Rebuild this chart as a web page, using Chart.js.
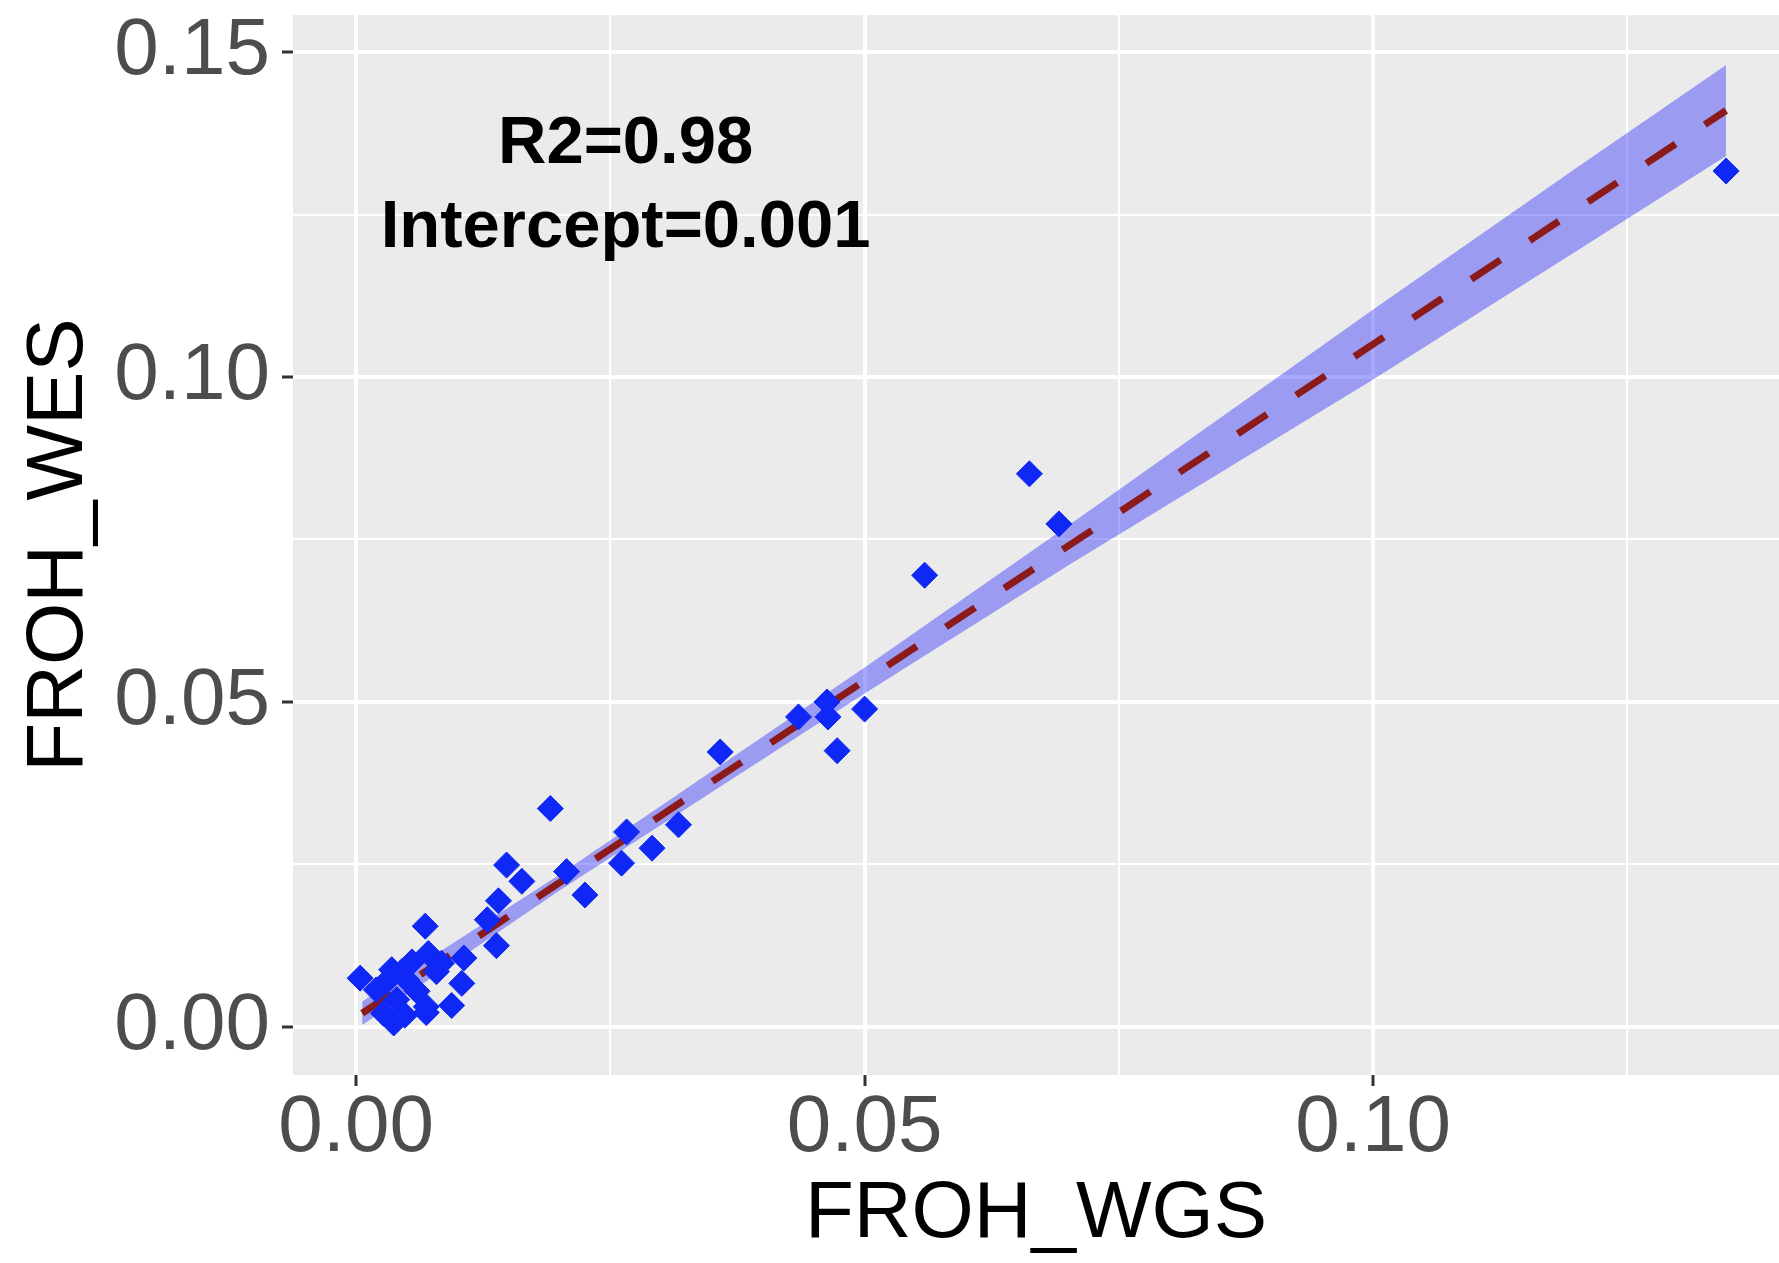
<!DOCTYPE html>
<html>
<head>
<meta charset="utf-8">
<title>FROH_WES vs FROH_WGS</title>
<script src="https://cdn.jsdelivr.net/npm/chart.js@4.4.1/dist/chart.umd.min.js"></script>
<style>
  html, body { margin: 0; padding: 0; background: #fff; }
  #wrap { width: 1779px; height: 1263px; }
</style>
</head>
<body>
<div id="wrap"><canvas id="myChart" width="1779" height="1263"></canvas></div>
<script>
// ---------- Datos ----------

const frohWGS = [0.1347, 0.0662, 0.0691, 0.0559, 0.0463, 0.0435, 0.0464, 0.0500, 0.0473, 0.0358,
  0.0191, 0.0266, 0.0317, 0.0291, 0.0261, 0.0148, 0.0163, 0.0207, 0.0225, 0.0140,
  0.0129, 0.0138, 0.0106, 0.0104, 0.0094, 0.0069, 0.0068, 0.0004, 0.0035, 0.0055,
  0.0071, 0.0084, 0.0050, 0.0020, 0.0040, 0.0027, 0.0037, 0.0048, 0.0069, 0.0060,
  0.0030, 0.0045, 0.0079];
const frohWES = [0.1317, 0.0851, 0.0774, 0.0695, 0.0500, 0.0477, 0.0477, 0.0489, 0.0425, 0.0423,
  0.0336, 0.0300, 0.0311, 0.0275, 0.0252, 0.0249, 0.0224, 0.0239, 0.0203, 0.0194,
  0.0165, 0.0125, 0.0106, 0.0067, 0.0033, 0.0022, 0.0155, 0.0075, 0.0088, 0.0100,
  0.0113, 0.0098, 0.0072, 0.0057, 0.0042, 0.0021, 0.0006, 0.0018, 0.0031, 0.0055,
  0.0070, 0.0085, 0.0085];

// recta de regresion (extremos) y banda de confianza
const fitX = [0.0006, 0.1347];
const fitY = [0.0021, 0.1410];

const bandX = [0.0006, 0.02, 0.05, 0.07, 0.10, 0.12, 0.1347];
const bandUpper = [0.0039, 0.0234, 0.0553, 0.0771, 0.1104, 0.1322, 0.1480];
const bandLower = [0.0003, 0.0210, 0.0513, 0.0710, 0.0996, 0.1194, 0.1340];

const xTicks = [0, 0.025, 0.05, 0.075, 0.10, 0.125];
const xTickLabels = ['0.00', '', '0.05', '', '0.10', ''];
const yTicks = [0, 0.025, 0.05, 0.075, 0.10, 0.125, 0.15];
const yTickLabels = ['0.00', '', '0.05', '', '0.10', '', '0.15'];

const anotaciones = ['R2=0.98', 'Intercept=0.001'];

// ---------- Plugins ----------

const fondoPanel = {
  id: 'fondoPanel',
  beforeDraw(chart) {
    const { ctx, chartArea: a } = chart;
    ctx.save();
    ctx.fillStyle = '#ebebeb';
    ctx.fillRect(a.left, a.top, a.right - a.left, a.bottom - a.top);
    ctx.restore();
  }
};

const textoAnotacion = {
  id: 'textoAnotacion',
  afterDraw(chart) {
    const { ctx, scales } = chart;
    const x = scales.x.getPixelForValue(0.0265);
    const ys = [0.1358, 0.1228];
    ctx.save();
    ctx.fillStyle = '#000';
    ctx.font = 'bold 67px "Liberation Sans", Arial, sans-serif';
    ctx.textAlign = 'center';
    ctx.textBaseline = 'middle';
    anotaciones.forEach((t, i) => {
      ctx.fillText(t, x, scales.y.getPixelForValue(ys[i]));
    });
    ctx.restore();
  }
};

// ---------- Grafica ----------

const puntos = frohWGS.map((x, i) => ({ x, y: frohWES[i] }));
const recta = fitX.map((x, i) => ({ x, y: fitY[i] }));
const bandaInf = bandX.map((x, i) => ({ x, y: bandLower[i] }));
const bandaSup = bandX.map((x, i) => ({ x, y: bandUpper[i] }));

const fuente = '"Liberation Sans", Arial, sans-serif';

const ctx = document.getElementById('myChart').getContext('2d');

new Chart(ctx, {
  type: 'scatter',
  data: {
    datasets: [
      {
        data: puntos,
        pointStyle: 'rectRot',
        pointRadius: 13,
        backgroundColor: 'rgb(15, 40, 245)',
        borderColor: 'rgb(15, 40, 245)',
        borderWidth: 1,
        order: 0
      },
      {
        data: recta,
        showLine: true,
        pointRadius: 0,
        borderColor: '#8b1a1a',
        borderWidth: 7,
        borderDash: [35, 35],
        fill: false,
        order: 1
      },
      {
        data: bandaInf,
        showLine: true,
        pointRadius: 0,
        borderWidth: 0,
        borderColor: 'rgba(0,0,0,0)',
        fill: false,
        order: 3
      },
      {
        data: bandaSup,
        showLine: true,
        pointRadius: 0,
        borderWidth: 0,
        borderColor: 'rgba(0,0,0,0)',
        backgroundColor: 'rgba(0, 0, 255, 0.34)',
        fill: '-1',
        order: 2
      }
    ]
  },
  options: {
    responsive: false,
    animation: false,
    layout: { autoPadding: false, padding: { top: 15, right: 0, bottom: 0, left: 0 } },
    plugins: {
      legend: { display: false },
      tooltip: { enabled: false }
    },
    scales: {
      x: {
        type: 'linear',
        min: -0.0062,
        max: 0.1399,
        afterBuildTicks: (scale) => { scale.ticks = xTicks.map(v => ({ value: v })); },
        afterFit: (scale) => { scale.height = 188; },
        border: { display: false },
        grid: {
          color: '#ffffff',
          lineWidth: (c) => xTickLabels[c.index] ? 4 : 2,
          tickLength: 11,
          tickWidth: 3,
          tickColor: (c) => xTickLabels[c.index] ? '#333333' : 'rgba(0,0,0,0)'
        },
        ticks: {
          callback: (v, i) => xTickLabels[i],
          color: '#4d4d4d',
          font: { family: fuente, size: 80, lineHeight: 1 },
          padding: 3,
          maxRotation: 0,
          autoSkip: false
        },
        title: {
          display: true,
          text: 'FROH_WGS',
          color: '#000',
          font: { family: fuente, size: 80, lineHeight: 1.2 },
          padding: { top: 0, bottom: 0 }
        }
      },
      y: {
        type: 'linear',
        min: -0.0074,
        max: 0.1557,
        afterBuildTicks: (scale) => { scale.ticks = yTicks.map(v => ({ value: v })); },
        afterFit: (scale) => { scale.width = 293; },
        border: { display: false },
        grid: {
          color: '#ffffff',
          lineWidth: (c) => yTickLabels[c.index] ? 4 : 2,
          tickLength: 11,
          tickWidth: 3,
          tickColor: (c) => yTickLabels[c.index] ? '#333333' : 'rgba(0,0,0,0)'
        },
        ticks: {
          callback: (v, i) => yTickLabels[i],
          color: '#4d4d4d',
          font: { family: fuente, size: 80, lineHeight: 0.04 },
          padding: 12,
          autoSkip: false
        },
        title: {
          display: true,
          text: 'FROH_WES',
          color: '#000',
          font: { family: fuente, size: 80, lineHeight: 1.2 },
          padding: { top: 12, bottom: 0 }
        }
      }
    }
  },
  plugins: [fondoPanel, textoAnotacion]
});
</script>
</body>
</html>
